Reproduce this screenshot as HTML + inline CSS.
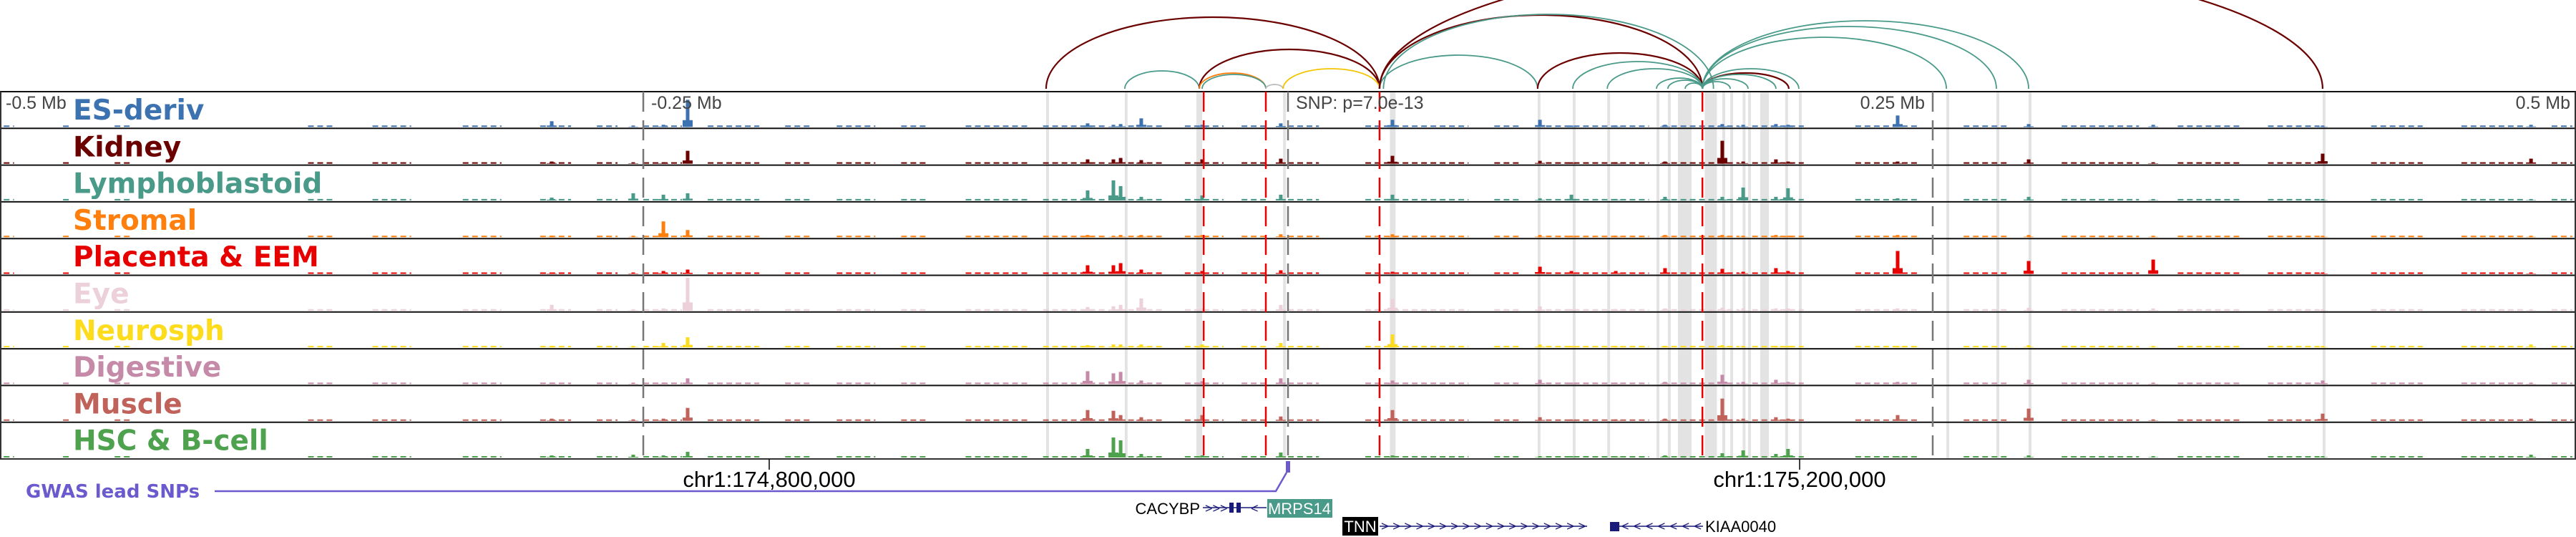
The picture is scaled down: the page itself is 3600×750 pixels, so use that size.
<!DOCTYPE html>
<html><head><meta charset="utf-8">
<style>
html,body{margin:0;padding:0;background:#fff;}
svg{display:block;font-family:"DejaVu Sans","Liberation Sans",sans-serif;}
</style></head>
<body>
<svg id="chart" width="3600" height="750" viewBox="0 0 3600 750" xmlns="http://www.w3.org/2000/svg">
<g id="hl"></g>
<g id="arcs"></g>
<g id="tracks"></g>
<g id="vlines"></g>
<g id="labels"></g>
<g fill="#444" font-size="25" font-family="Liberation Sans, sans-serif">
  <text x="8" y="152">-0.5 Mb</text>
  <text x="910" y="152">-0.25 Mb</text>
  <text x="1811" y="152">SNP: p=7.0e-13</text>
  <text x="2690" y="152" text-anchor="end">0.25 Mb</text>
  <text x="3592" y="152" text-anchor="end">0.5 Mb</text>
</g>
<g font-family="Liberation Sans, sans-serif" font-size="31" fill="#000">
  <line x1="1075" y1="641" x2="1075" y2="656" stroke="#000" stroke-width="1.5"/>
  <text x="1075" y="680" text-anchor="middle">chr1:174,800,000</text>
  <line x1="2515" y1="641" x2="2515" y2="656" stroke="#000" stroke-width="1.5"/>
  <text x="2515" y="680" text-anchor="middle">chr1:175,200,000</text>
</g>
<g>
  <text x="36" y="695" font-size="26" font-weight="bold" fill="#6a5acd">GWAS lead SNPs</text>
  <polyline points="300,686 1783,686 1798,660" fill="none" stroke="#6a5acd" stroke-width="2.5"/>
  <rect x="1797" y="644" width="6" height="16" fill="#6a5acd"/>
</g>
<g font-family="Liberation Sans, sans-serif">
  <text x="1677" y="718" font-size="22" text-anchor="end" fill="#000">CACYBP</text>
  <line x1="1681" y1="709" x2="1770" y2="709" stroke="#1a1a7a" stroke-width="1.5"/>
  <text x="1684" y="716" font-size="18" fill="#1a1a7a">&gt;&gt;&gt;</text>
  <rect x="1718" y="702" width="6" height="14" fill="#1a1a7a"/>
  <rect x="1728" y="702" width="6" height="14" fill="#1a1a7a"/>
  <text x="1748" y="716" font-size="18" fill="#1a1a7a">&lt;</text>
  <rect x="1771" y="697" width="91" height="26" fill="#4a9a8a"/>
  <text x="1816" y="718" font-size="22" text-anchor="middle" fill="#fff">MRPS14</text>
  <rect x="1876" y="722" width="50" height="26" fill="#000"/>
  <text x="1901" y="743" font-size="22" text-anchor="middle" fill="#fff">TNN</text>
  <line x1="1928" y1="735" x2="2218" y2="735" stroke="#1a1a7a" stroke-width="1.5"/>
  <text x="1930" y="741" font-size="18" fill="#1a1a7a" textLength="286">&gt;&gt;&gt;&gt;&gt;&gt;&gt;&gt;&gt;&gt;&gt;&gt;&gt;&gt;&gt;&gt;&gt;&gt;</text>
  <rect x="2250" y="729" width="13" height="13" fill="#1a1a7a"/>
  <line x1="2263" y1="735" x2="2380" y2="735" stroke="#1a1a7a" stroke-width="1.5"/>
  <text x="2266" y="741" font-size="18" fill="#1a1a7a" textLength="112">&lt;&lt;&lt;&lt;&lt;&lt;&lt;</text>
  <text x="2383" y="743" font-size="22" fill="#000">KIAA0040</text>
</g>
</svg>
<script>
// ---- data ----
const trackNames = ["ES-deriv","Kidney","Lymphoblastoid","Stromal","Placenta & EEM","Eye","Neurosph","Digestive","Muscle","HSC & B-cell"];
const trackColors = ["#3d72b0","#6b0000","#4a9a8a","#ff7f0e","#e60000","#ecd0da","#fddc1e","#c58aa8","#c0625a","#4ea24e"];
const peakPositionsKb = [-285.5,-242.2,-232.8,-253.9,-77.7,-67.7,-64.9,-56.9,-2.8,40.5,97.7,109.9,146.2,168.4,176.5,189.2,193.9,236.4,287.2,335.5,401.2,482.0,-33.3,127.1];
const esValues        = [8,3,38,2,5,3,4,12,5,10,10,2,3,4,3,4,3,16,4,3,2,3,3,2];
const kidneyValues    = [3,2,18,2,6,6,8,5,7,11,4,2,3,32,3,6,3,3,6,2,14,7,6,2];
const lymphValues     = [4,8,10,10,14,28,20,5,8,8,3,8,5,5,18,5,17,3,5,2,2,2,7,2];
const stromalValues   = [2,22,10,2,3,2,3,3,4,4,3,2,3,3,2,3,2,3,3,2,2,2,3,2];
const placentaValues  = [2,4,6,2,12,12,15,6,5,3,10,4,8,7,3,8,4,32,18,20,2,2,4,4];
const eyeValues       = [8,3,46,2,5,6,8,17,8,16,6,2,3,4,3,3,3,3,4,3,2,2,3,2];
const neuroValues     = [2,6,14,2,3,4,4,4,6,18,4,2,2,3,2,2,2,2,3,2,2,4,4,2];
const digestiveValues = [2,2,8,2,18,15,17,5,8,5,6,2,3,13,3,6,3,3,6,2,5,2,4,2];
const muscleValues    = [3,3,18,2,15,14,8,5,6,15,5,2,3,31,3,5,3,8,17,2,10,3,8,2];
const hscValues       = [3,3,8,4,12,28,24,5,7,3,2,2,3,6,10,5,12,2,3,2,2,4,3,2];
const trackValues = [esValues,kidneyValues,lymphValues,stromalValues,placentaValues,eyeValues,neuroValues,digestiveValues,muscleValues,hscValues];
const coverageStartKb = [-498,-475,-455,-380,-355,-320,-290,-268,-250,-225,-195,-175,-150,-125,-95,-62,-40,-18,0,30,80,100,145,180,220,262,300,345,380,420,455,490];
const coverageEndKb   = [-494,-472,-448,-370,-340,-305,-278,-260,-235,-205,-185,-160,-140,-100,-70,-48,-25,-8,12,70,90,140,175,200,245,280,330,370,400,440,480,498];
const arcStartKb = [-93.8,-63.3,-34.4,-34.4,-33.3,-8.6,-1.9,35.5,35.5,35.5,37,96.8,110.4,123.8,142.9,147.3,154,160.7,160.7,160.7,160.7,160.7,160.7,160.7,160.7];
const arcEndKb   = [35.5,-34.4,35.5,-8.6,-8.6,-1.9,35.5,401.2,96.8,160.7,165,160.7,160.7,160.7,160.7,160.7,160.7,194.2,178.4,189.2,198.1,255.3,274.7,287.2,171.5];
const arcHeights = [100,25,55,22,20,6,28,185,47,103,104,50,38,28,15,12,8,22,14,20,28,72,87,95,10];
const arcKinds   = ["k","t","k","o","t","g","y","k","t","k","t","k","t","t","t","t","t","k","t","t","t","t","t","t","t"];
const highlightStartKb = [-93.8,-63.3,-35.5,-1.9,39.5,96.8,110.4,123.8,142.9,147.3,151.2,161.6,168.4,171.5,176.3,178.4,183.1,192.8,198.1,255.3,274.7,287.2,401.2];
const highlightEndKb   = [-92.7,-62.2,-33.3,-0.8,41.7,97.9,111.5,124.9,144.0,148.4,156.5,166.3,169.5,172.6,177.4,179.5,186.5,193.9,199.2,256.4,275.8,288.3,402.3];
const redLinesKb = [-32.7,-8.6,35.5,160.7];
const grayLinesKb = [-250,0,250];

// ---- scales ----
const NS="http://www.w3.org/2000/svg";
const X0=1800, PXKB=3.604;
function xs(kb){return X0+kb*PXKB;}
const TOP=128, TH=51.3, NT=10;
function trackTop(i){return TOP+i*TH;}
function ys(i,v){return trackTop(i+1)-2 - v;}
function mk(tag,attrs,parent){const e=document.createElementNS(NS,tag);for(const k in attrs)e.setAttribute(k,attrs[k]);parent.appendChild(e);return e;}
const arcColor={k:"#6b0000",t:"#4a9a8a",o:"#ff7f0e",g:"#bbbbbb",y:"#f5c400"};

// highlights
const hl=document.getElementById('hl');
highlightStartKb.forEach((s,i)=>{
  const r=mk('rect',{x:xs(s),y:TOP,width:Math.max(3,xs(highlightEndKb[i])-xs(s)),height:NT*TH,fill:"#e3e3e3"},hl);
  
  
});

// arcs
const ag=document.getElementById('arcs');
const BASE=124;
arcStartKb.forEach((s,i)=>{
  const x1=xs(s),x2=xs(arcEndKb[i]),h=arcHeights[i];
  const rx=(x2-x1)/2;
  const p=mk('path',{d:`M${x1},${BASE} A${rx},${h} 0 0 1 ${x2},${BASE}`,fill:"none",stroke:arcColor[arcKinds[i]],"stroke-width":arcKinds[i]==="k"?2.2:1.8},ag);
  
  
});

// tracks
const tg=document.getElementById('tracks');
for(let t=0;t<NT;t++){
  const g=mk('g',{},tg);
  
  
  const col=trackColors[t];
  coverageStartKb.forEach((s,i)=>{
    const yb=ys(t,1);
    const r=mk('line',{x1:xs(s),y1:yb,x2:xs(coverageEndKb[i]),y2:yb,stroke:col,"stroke-width":2,"stroke-dasharray":"8 5"},g);
    
    
  });
  peakPositionsKb.forEach((p,i)=>{
    const v=trackValues[t][i], cx=xs(p);
    const f=mk('rect',{x:cx-7,y:ys(t,v*0.25),width:14,height:v*0.25,fill:col},g);
    
    
    const b=mk('rect',{x:cx-2.5,y:ys(t,v),width:5,height:v,fill:col},g);
    
    
  });
  const ln=mk('line',{x1:0,y1:trackTop(t),x2:3600,y2:trackTop(t),stroke:"#111","stroke-width":2},g);
  
  
}
const bl=mk('line',{x1:0,y1:trackTop(NT),x2:3600,y2:trackTop(NT),stroke:"#333","stroke-width":2},tg);


const lb=mk('line',{x1:1,y1:TOP,x2:1,y2:trackTop(NT),stroke:"#333","stroke-width":2},tg);


const rb=mk('line',{x1:3599,y1:TOP,x2:3599,y2:trackTop(NT),stroke:"#333","stroke-width":2},tg);



// marker lines
const vg=document.getElementById('vlines');
grayLinesKb.forEach(k=>{
  const l=mk('line',{x1:xs(k),y1:TOP,x2:xs(k),y2:trackTop(NT),stroke:"#777","stroke-width":2.5,"stroke-dasharray":"28 12"},vg);
  
  
});
redLinesKb.forEach(k=>{
  const l=mk('line',{x1:xs(k),y1:TOP,x2:xs(k),y2:trackTop(NT),stroke:"#ee0000","stroke-width":2.5,"stroke-dasharray":"28 12"},vg);
  
  
});

// labels
const lg=document.getElementById('labels');
trackNames.forEach((n,i)=>{
  const t=mk('text',{x:102,y:trackTop(i)+39,"font-size":39,"font-weight":"bold",fill:trackColors[i]},lg);
  t.textContent=n;
  
  
});
</script>
</body></html>
